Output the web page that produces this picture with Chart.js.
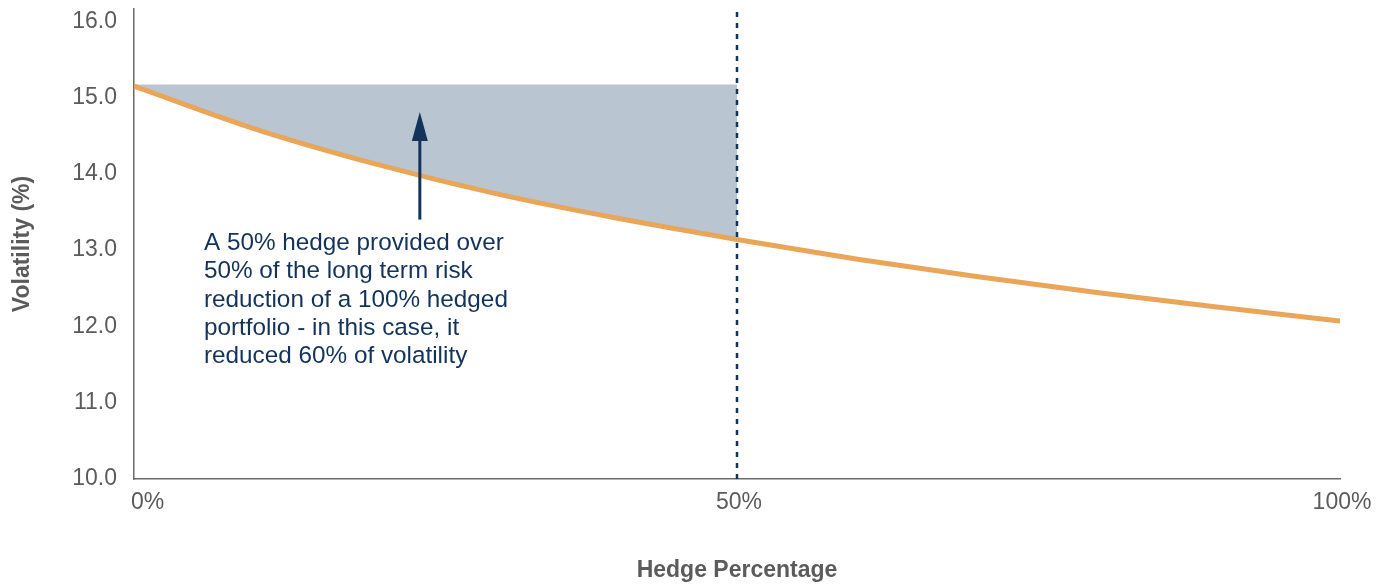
<!DOCTYPE html>
<html>
<head>
<meta charset="utf-8">
<script src="https://cdn.jsdelivr.net/npm/chart.js@4"></script>
<style>
  html, body { margin: 0; padding: 0; background: #fff; }
  #wrap { width: 1388px; height: 584px; position: relative; }
</style>
</head>
<body>
<div id="wrap"><canvas id="hedgeChart"></canvas></div>
<script>
const hedgePct = [0, 10, 20, 30, 40, 50, 60, 70, 80, 90, 100];
const volatility = [15.15, 14.59, 14.13, 13.74, 13.42, 13.14, 12.88, 12.65, 12.44, 12.25, 12.07];
const shadeTop = 15.17;
const hedgeMark = 50;
const xTickValues = [0, 50, 100];
const xTickLabels = ['0%', '50%', '100%'];
const noteLines = [
  'A 50% hedge provided over',
  '50% of the long term risk',
  'reduction of a 100% hedged',
  'portfolio - in this case, it',
  'reduced 60% of volatility'
];
const arrowAt = { x: 23.7, from: 13.40, to: 14.81 };
const noteAt = { x: 5.8, y: 13.09 };

const FONT = "'Liberation Sans', Arial, Helvetica, sans-serif";
const GREY = '#5b5b5b';
const NAVY = '#13335b';

const curvePoints = hedgePct.map((h, i) => ({ x: h, y: volatility[i] }));
const shadePoints = curvePoints.filter(p => p.x <= hedgeMark);

const overlayPlugin = {
  id: 'overlay',
  afterDatasetsDraw(chart) {
    const { ctx, scales: { x, y } } = chart;
    ctx.save();

    // arrow
    const ax = x.getPixelForValue(arrowAt.x);
    const yTip = y.getPixelForValue(arrowAt.to);
    const yBase = y.getPixelForValue(arrowAt.from);
    ctx.strokeStyle = NAVY;
    ctx.fillStyle = NAVY;
    ctx.lineWidth = 3;
    ctx.beginPath();
    ctx.moveTo(ax, yBase);
    ctx.lineTo(ax, yTip + 20);
    ctx.stroke();
    ctx.beginPath();
    ctx.moveTo(ax, yTip);
    ctx.lineTo(ax - 8, yTip + 29);
    ctx.lineTo(ax + 8, yTip + 29);
    ctx.closePath();
    ctx.fill();

    // note text
    ctx.font = '24.3px ' + FONT;
    ctx.textAlign = 'left';
    ctx.textBaseline = 'middle';
    const nx = x.getPixelForValue(noteAt.x);
    const ny = y.getPixelForValue(noteAt.y);
    noteLines.forEach((line, i) => ctx.fillText(line, nx, ny + i * 28.3));

    // x tick labels
    ctx.fillStyle = GREY;
    ctx.font = '23px ' + FONT;
    xTickValues.forEach((v, i) => {
      const px = x.getPixelForValue(v);
      if (i === 0) {
        ctx.textAlign = 'left';
        ctx.fillText(xTickLabels[i], px - 3, y.bottom + 24);
      } else {
        ctx.textAlign = 'center';
        ctx.fillText(xTickLabels[i], px + 2, y.bottom + 24);
      }
    });
    ctx.restore();
  }
};

new Chart(document.getElementById('hedgeChart'), {
  type: 'line',
  data: {
    datasets: [
      {
        label: 'hedge mark',
        data: [{ x: hedgeMark, y: 10 }, { x: hedgeMark, y: 16.2 }],
        borderColor: NAVY,
        borderWidth: 2.5,
        borderDash: [5, 6],
        pointRadius: 0,
        fill: false,
        clip: false
      },
      {
        label: 'Volatility',
        data: curvePoints,
        borderColor: '#e9a659',
        borderWidth: 5,
        borderCapStyle: 'round',
        pointRadius: 0,
        cubicInterpolationMode: 'monotone',
        fill: false
      },
      {
        label: 'reduction',
        data: shadePoints,
        borderWidth: 0,
        borderColor: 'rgba(0,0,0,0)',
        backgroundColor: '#b9c6d2',
        pointRadius: 0,
        cubicInterpolationMode: 'monotone',
        fill: { value: shadeTop }
      }
    ]
  },
  options: {
    responsive: true,
    maintainAspectRatio: false,
    animation: false,
    layout: { padding: { top: 9, right: 48, left: 0, bottom: 0 } },
    plugins: {
      legend: { display: false },
      tooltip: { enabled: false }
    },
    scales: {
      x: {
        type: 'linear',
        min: 0,
        max: 100,
        grid: { display: false, drawTicks: false },
        border: { display: true, color: '#6a6a6a', width: 1.5 },
        ticks: { display: false, stepSize: 50 },
        title: {
          display: true,
          text: 'Hedge Percentage',
          color: GREY,
          font: { family: FONT, size: 23, weight: 'bold' },
          padding: { top: 0, bottom: 0 }
        },
        afterFit: (scale) => {
          scale.height = 105;
          scale.paddingLeft = 0;
          scale.paddingRight = 0;
        }
      },
      y: {
        min: 10,
        max: 16.16,
        grid: { display: false, drawTicks: false },
        border: { display: true, color: '#6a6a6a', width: 1.5 },
        ticks: {
          stepSize: 1,
          includeBounds: false,
          padding: 17,
          color: GREY,
          font: { family: FONT, size: 23 },
          callback: (v) => Number(v).toFixed(1)
        },
        title: {
          display: true,
          text: 'Volatility (%)',
          color: GREY,
          font: { family: FONT, size: 23, weight: 'bold' },
          padding: { top: 9, bottom: 0 }
        },
        afterFit: (scale) => {
          scale.width = 134;
          scale.paddingTop = 0;
          scale.paddingBottom = 0;
        }
      }
    }
  },
  plugins: [overlayPlugin]
});
</script>
</body>
</html>
